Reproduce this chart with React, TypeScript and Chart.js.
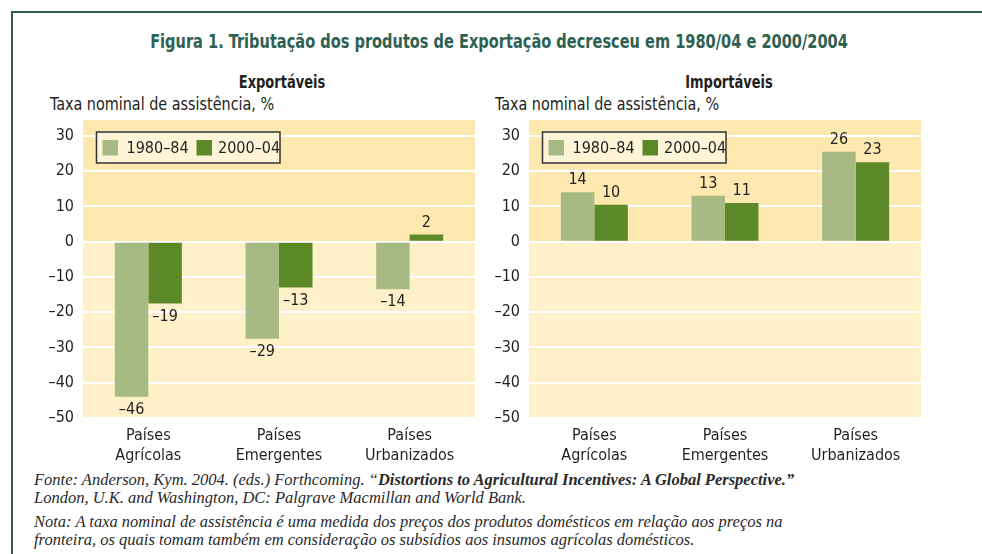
import React, { useEffect, useRef } from "react";
import { Chart, registerables } from "chart.js";
Chart.register(...registerables);

const categories = [["Países", "Agrícolas"], ["Países", "Emergentes"], ["Países", "Urbanizados"]];
const seriesNames = ["1980–84", "2000–04"];
const exp1980 = [-44, -27.5, -13.5];
const exp2000 = [-17.5, -13, 2];
const exp1980Labels = ["–46", "–29", "–14"];
const exp2000Labels = ["–19", "–13", "2"];
const imp1980 = [14, 13, 25.5];
const imp2000 = [10.5, 11, 22.5];
const imp1980Labels = ["14", "13", "26"];
const imp2000Labels = ["10", "11", "23"];
const yTicks = [-50, -40, -30, -20, -10, 0, 10, 20, 30];

const LIGHT = "#a7ba84";
const DARK = "#5c8a28";
const BG_POS = "#fde9b0";
const BG_NEG = "#fef0c8";
const GREEN = "#2e6152";
const TEXT = "#231f20";
const NARROW = "'Liberation Sans Narrow', 'DejaVu Sans Condensed', 'Roboto', sans-serif";
const SERIF = "'Liberation Serif', 'DejaVu Serif', serif";

type PanelProps = {
  left: number; top: number; width: number; height: number;
  axisW: number; padRight: number;
  a: number[]; b: number[]; la: string[]; lb: string[];
};

function Panel({ left, top, width, height, axisW, padRight, a, b, la, lb }: PanelProps) {
  const ref = useRef<HTMLCanvasElement | null>(null);
  useEffect(() => {
    if (!ref.current) return;
    const labelSets = [la, lb];
    const deco = {
      id: "deco",
      beforeDraw(chart: any) {
        const { ctx, chartArea: ca, scales } = chart;
        const y0 = scales.y.getPixelForValue(0);
        ctx.save();
        ctx.fillStyle = BG_POS;
        ctx.fillRect(ca.left, ca.top, ca.right - ca.left, y0 - ca.top);
        ctx.fillStyle = BG_NEG;
        ctx.fillRect(ca.left, y0, ca.right - ca.left, ca.bottom - y0);
        ctx.restore();
      },
      afterDatasetsDraw(chart: any) {
        const { ctx } = chart;
        ctx.save();
        ctx.font = `16px ${NARROW}`;
        ctx.fillStyle = TEXT;
        ctx.textAlign = "center";
        ctx.textBaseline = "middle";
        chart.data.datasets.forEach((ds: any, d: number) => {
          const meta = chart.getDatasetMeta(d);
          meta.data.forEach((bar: any, i: number) => {
            const v = ds.data[i];
            const y = v >= 0 ? bar.y - 12 : bar.y + 13;
            ctx.fillText(labelSets[d][i], bar.x, y);
          });
        });
        ctx.restore();
      },
      afterDraw(chart: any) {
        const { ctx, chartArea: ca } = chart;
        const bx = ca.left + 13.5;
        const by = ca.top + 12;
        ctx.save();
        ctx.fillStyle = "#fef4d8";
        ctx.fillRect(bx, by, 183.5, 31);
        ctx.strokeStyle = "#333333";
        ctx.lineWidth = 1.5;
        ctx.strokeRect(bx, by, 183.5, 31);
        const items = [
          { c: LIGHT, sq: 6, tx: 30 },
          { c: DARK, sq: 100, tx: 121.5 },
        ];
        ctx.font = `16px ${NARROW}`;
        ctx.textAlign = "left";
        ctx.textBaseline = "middle";
        items.forEach((it, k) => {
          ctx.fillStyle = it.c;
          ctx.fillRect(bx + it.sq, by + 8, 15.5, 15.5);
          ctx.fillStyle = TEXT;
          ctx.fillText(seriesNames[k], bx + it.tx, by + 16.5);
        });
        ctx.restore();
      },
    };
    const chart = new Chart(ref.current, {
      type: "bar",
      data: {
        labels: categories as any,
        datasets: [
          { label: seriesNames[0], data: a, backgroundColor: LIGHT, borderWidth: 0 },
          { label: seriesNames[1], data: b, backgroundColor: DARK, borderWidth: 0 },
        ],
      },
      options: {
        animation: false,
        responsive: false,
        devicePixelRatio: 1,
        layout: { padding: { top: 10, right: padRight, left: 0, bottom: 0 } },
        datasets: { bar: { categoryPercentage: 0.513, barPercentage: 1 } },
        plugins: { legend: { display: false }, tooltip: { enabled: false } },
        scales: {
          x: {
            grid: { display: false, drawTicks: false },
            border: { display: false },
            ticks: {
              color: TEXT,
              font: { family: NARROW, size: 16, lineHeight: 1.3 },
              padding: 7,
              maxRotation: 0,
              autoSkip: false,
            },
            afterFit: (s: any) => { s.height = 52; s.paddingLeft = 0; s.paddingRight = 0; },
          },
          y: {
            min: -50,
            max: 34.5,
            afterBuildTicks: (s: any) => { s.ticks = yTicks.map((v) => ({ value: v })); },
            grid: { color: "#ffffff", lineWidth: 2, drawTicks: false },
            border: { display: false },
            ticks: {
              color: TEXT,
              font: { family: NARROW, size: 16 },
              padding: 9,
              callback: (v: any) => (v < 0 ? "–" + Math.abs(v) : String(v)),
            },
            afterFit: (s: any) => { s.width = axisW; s.paddingTop = 0; s.paddingBottom = 0; },
          },
        },
      },
      plugins: [deco],
    } as any);
    return () => chart.destroy();
  }, []);
  return (
    <canvas
      ref={ref}
      width={width}
      height={height}
      style={{ position: "absolute", left, top, width, height }}
    />
  );
}

export default function App() {
  const abs = (o: React.CSSProperties): React.CSSProperties => ({ position: "absolute", whiteSpace: "nowrap", margin: 0, ...o });
  return (
    <div style={{ position: "absolute", left: 0, top: 0, width: 982, height: 554, background: "#fff", overflow: "hidden", color: TEXT }}>
      <div style={abs({ left: 11, top: 11, width: 980, height: 560, borderTop: "2.5px solid #2f5f4f", borderLeft: "2.5px solid #2f5f4f" })} />
      <div style={abs({ left: 0, width: 998, top: 31, textAlign: "center", font: `bold 20px/20px ${NARROW}`, color: GREEN, transform: "scaleX(0.81)", transformOrigin: "499px 0" })}>
        Figura 1. Tributação dos produtos de Exportação decresceu em 1980/04 e 2000/2004
      </div>
      <div style={abs({ left: 86, width: 392, top: 74, textAlign: "center", font: `bold 17px/17px ${NARROW}`, transform: "scaleX(0.85)" })}>Exportáveis</div>
      <div style={abs({ left: 533, width: 392, top: 74, textAlign: "center", font: `bold 17px/17px ${NARROW}`, transform: "scaleX(0.85)" })}>Importáveis</div>
      <div style={abs({ left: 50, top: 96, font: `17px/17px ${NARROW}`, transform: "scaleX(0.94)", transformOrigin: "0 0" })}>Taxa nominal de assistência, %</div>
      <div style={abs({ left: 495, top: 96, font: `17px/17px ${NARROW}`, transform: "scaleX(0.94)", transformOrigin: "0 0" })}>Taxa nominal de assistência, %</div>
      <Panel left={30} top={110} width={450} height={360} axisW={53} padRight={5}
        a={exp1980} b={exp2000} la={exp1980Labels} lb={exp2000Labels} />
      <Panel left={480} top={110} width={450} height={360} axisW={49} padRight={9}
        a={imp1980} b={imp2000} la={imp1980Labels} lb={imp2000Labels} />
      <div style={abs({ left: 34, top: 471, font: `italic 16.5px/18px ${SERIF}`, color: "#2a2a2a" })}>
        Fonte: Anderson, Kym. 2004. (eds.) Forthcoming. “<b>Distortions to Agricultural Incentives: A Global Perspective.”</b>
        <br />London, U.K. and Washington, DC: Palgrave Macmillan and World Bank.
      </div>
      <div style={abs({ left: 34, top: 513, font: `italic 16.5px/18px ${SERIF}`, color: "#2a2a2a" })}>
        Nota: A taxa nominal de assistência é uma medida dos preços dos produtos domésticos em relação aos preços na
        <br />fronteira, os quais tomam também em consideração os subsídios aos insumos agrícolas domésticos.
      </div>
    </div>
  );
}
